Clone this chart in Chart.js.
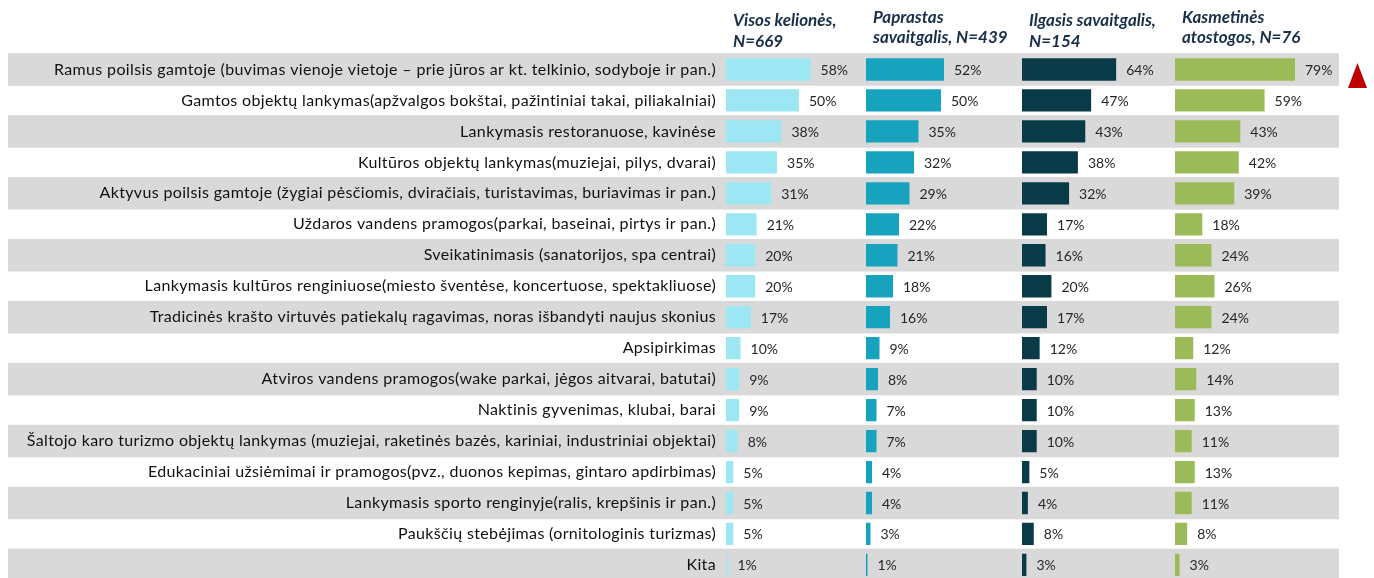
<!DOCTYPE html>
<html>
<head>
<meta charset="utf-8">
<script src="https://cdn.jsdelivr.net/npm/chart.js@4/dist/chart.umd.min.js"></script>
<style>
html,body{margin:0;padding:0;background:#fff;overflow:hidden;}
#wrap{position:relative;width:1374px;height:578px;overflow:hidden;}
canvas{display:block;}
</style>
</head>
<body>
<div id="wrap"><canvas id="c" width="1374" height="600"></canvas></div>
<script>
const categories = [
  "Ramus poilsis gamtoje (buvimas vienoje vietoje – prie jūros ar kt. telkinio, sodyboje ir pan.)",
  "Gamtos objektų lankymas(apžvalgos bokštai, pažintiniai takai, piliakalniai)",
  "Lankymasis restoranuose, kavinėse",
  "Kultūros objektų lankymas(muziejai, pilys, dvarai)",
  "Aktyvus poilsis gamtoje (žygiai pėsčiomis, dviračiais, turistavimas, buriavimas ir pan.)",
  "Uždaros vandens pramogos(parkai, baseinai, pirtys ir pan.)",
  "Sveikatinimasis (sanatorijos, spa centrai)",
  "Lankymasis kultūros renginiuose(miesto šventėse, koncertuose, spektakliuose)",
  "Tradicinės krašto virtuvės patiekalų ragavimas, noras išbandyti naujus skonius",
  "Apsipirkimas",
  "Atviros vandens pramogos(wake parkai, jėgos aitvarai, batutai)",
  "Naktinis gyvenimas, klubai, barai",
  "Šaltojo karo turizmo objektų lankymas (muziejai, raketinės bazės, kariniai, industriniai objektai)",
  "Edukaciniai užsiėmimai ir pramogos(pvz., duonos kepimas, gintaro apdirbimas)",
  "Lankymasis sporto renginyje(ralis, krepšinis ir pan.)",
  "Paukščių stebėjimas (ornitologinis turizmas)",
  "Kita"
];
const visosKelliones = [58,50,38,35,31,21,20,20,17,10,9,9,8,5,5,5,1];
const paprastasSavaitgalis = [52,50,35,32,29,22,21,18,16,9,8,7,7,4,4,3,1];
const ilgasisSavaitgalis = [64,47,43,38,32,17,16,20,17,12,10,10,10,5,4,8,3];
const kasmetinesAtostogos = [79,59,43,42,39,18,24,26,24,12,14,13,11,13,11,8,3];
const seriesHeaders = [
  ["Visos kelionės,", "N=669"],
  ["Paprastas", "savaitgalis, N=439"],
  ["Ilgasis savaitgalis,", "N=154"],
  ["Kasmetinės", "atostogos, N=76"]
];
const seriesValues = [visosKelliones, paprastasSavaitgalis, ilgasisSavaitgalis, kasmetinesAtostogos];
const seriesColors = ["#9de7f5", "#17a3be", "#083b47", "#9bbb59"];
const axisIds = ["x1","x2","x3","x4"];
const axisMax = [96, 104, 104, 108];
const axisWeight = [140, 156, 153, 164];
const headerBaseline = [26, 22.7, 26, 22.7];

const FONT = "Lato, 'Open Sans', sans-serif";

const bandsPlugin = {
  id: 'bands',
  beforeDraw(chart) {
    const {ctx, chartArea, scales} = chart;
    const y = scales.y;
    const pitch = (y.bottom - y.top) / categories.length;
    ctx.save();
    ctx.fillStyle = '#d9d9d9';
    for (let i = 0; i < categories.length; i += 2) {
      const cy = y.getPixelForValue(i);
      ctx.fillRect(8, cy - pitch / 2 - 0.8, chartArea.right - 8, pitch + 1.6);
    }
    ctx.restore();
    ctx.letterSpacing = '0.35px';
  },
  beforeDatasetsDraw(chart) {
    chart.ctx.letterSpacing = '0px';
  }
};

const labelsPlugin = {
  id: 'valueLabels',
  afterDatasetsDraw(chart) {
    const {ctx} = chart;
    ctx.save();
    ctx.letterSpacing = '0px';
    ctx.font = "14px " + FONT;
    ctx.fillStyle = '#262626';
    ctx.textAlign = 'left';
    ctx.textBaseline = 'middle';
    chart.data.datasets.forEach((ds, i) => {
      const meta = chart.getDatasetMeta(i);
      meta.data.forEach((bar, j) => {
        ctx.fillText(ds.data[j] + '%', bar.x + 10, bar.y + 1);
      });
    });
    // headers
    ctx.font = "italic bold 17px " + FONT;
    ctx.fillStyle = '#172f49';
    ctx.textBaseline = 'alphabetic';
    axisIds.forEach((id, i) => {
      const sc = chart.scales[id];
      const x = sc.left + 7;
      ctx.fillText(seriesHeaders[i][0], x, headerBaseline[i]);
      ctx.fillText(seriesHeaders[i][1], x, headerBaseline[i] + 20.5);
    });
    // red marker triangle
    const y = chart.scales.y;
    const cy = y.getPixelForValue(0) + 6;
    const x0 = chart.chartArea.right + 9;
    ctx.fillStyle = '#c00000';
    ctx.beginPath();
    ctx.moveTo(x0, cy + 12.5);
    ctx.lineTo(x0 + 19, cy + 12.5);
    ctx.lineTo(x0 + 9.5, cy - 12.5);
    ctx.closePath();
    ctx.fill();
    ctx.restore();
  }
};

const datasets = seriesValues.map((vals, i) => ({
  label: seriesHeaders[i].join(' '),
  data: vals,
  backgroundColor: seriesColors[i],
  borderWidth: 0,
  xAxisID: axisIds[i],
  yAxisID: 'y',
  grouped: false,
  categoryPercentage: 1,
  barPercentage: 0.72
}));

const scales = {
  y: {
    type: 'category',
    position: 'left',
    grid: {display: false, drawTicks: false},
    border: {display: false},
    ticks: {
      padding: 10,
      color: '#111111',
      font: {family: FONT, size: 16},
      autoSkip: false
    },
    afterFit(scale) { scale.width = 726; }
  }
};
axisIds.forEach((id, i) => {
  scales[id] = {
    type: 'linear',
    position: 'bottom',
    stack: 'cols',
    stackWeight: axisWeight[i],
    min: 0,
    max: axisMax[i],
    display: false
  };
});

new Chart(document.getElementById('c'), {
  type: 'bar',
  data: {labels: categories, datasets},
  options: {
    indexAxis: 'y',
    responsive: false,
    animation: false,
    devicePixelRatio: 1,
    layout: {padding: {left: 0, right: 35, top: 54, bottom: 8}},
    plugins: {legend: {display: false}, tooltip: {enabled: false}, title: {display: false}},
    scales
  },
  plugins: [bandsPlugin, labelsPlugin]
});
</script>
</body>
</html>
